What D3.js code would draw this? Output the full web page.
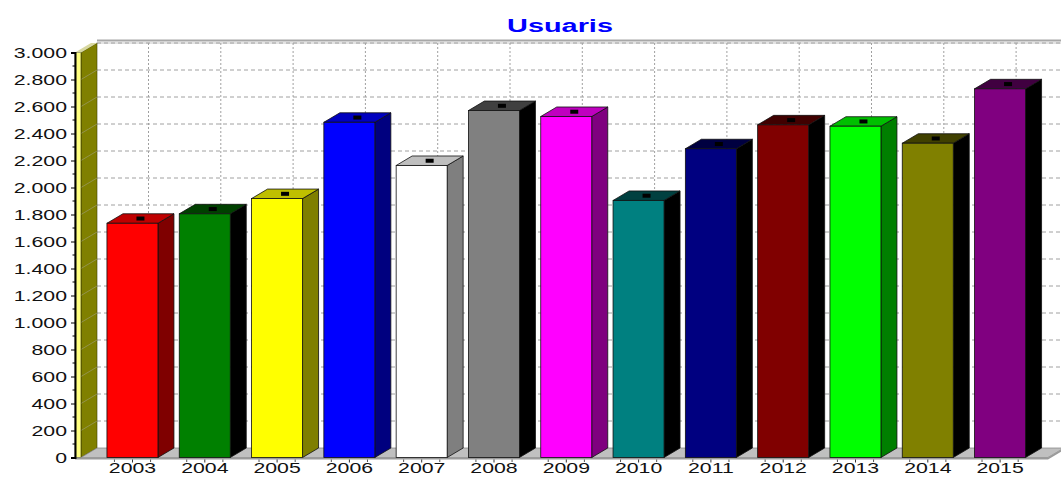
<!DOCTYPE html>
<html>
<head>
  <meta charset="utf-8">
  <title>Usuaris</title>
  <style>
    body { margin: 0; background: #fff; }
    svg text { font-family: "Liberation Sans", Arial, sans-serif; }
  </style>
</head>
<body>
  <div id="chart"></div>
  <script src="https://cdn.jsdelivr.net/npm/d3@7"></script>
  <script>

  // datos
  var years = ["2003","2004","2005","2006","2007","2008","2009","2010","2011","2012","2013","2014","2015"];
  var users = [1735, 1805, 1918, 2483, 2163, 2570, 2526, 1904, 2287, 2464, 2454, 2328, 2731];
  var yTicks = d3.range(0, 3001, 200);
  var palette = ["#ff0000","#008000","#ffff00","#0000ff","#ffffff","#808080","#ff00ff","#008080","#000080","#800000","#00ff00","#808000","#800080"];

  var w = 1061, h = 477;
  var dx = 16, dy = 9.5;      // profundidad 3D
  var sx = 1.52;              // el texto original esta estirado en horizontal

  var svg = d3.select("#chart").append("svg")
    .attr("width", w)
    .attr("height", h);

  var x = d3.scaleBand().domain(years).range([96.35, 1036.25]).padding(0);
  var y = d3.scaleLinear().domain([0, 3000]).range([457.5, 52.5]);
  var step = x.step();
  var barW = 51, barOff = 10.6;

  // shade: top = c - 64, side = c - 128
  function shade(c, k){
    var r = d3.rgb(c);
    return d3.rgb(Math.max(0, r.r - k), Math.max(0, r.g - k), Math.max(0, r.b - k)).formatHex();
  }

  // titulo
  svg.append("text")
    .attr("transform", "translate(560,32) scale(" + sx + ",1)")
    .attr("text-anchor", "middle")
    .attr("font-size", "19px")
    .attr("font-weight", "bold")
    .attr("fill", "#0000ff")
    .text("Usuaris");

  // borde superior del plano de fondo
  svg.append("line").attr("x1", 97).attr("x2", w).attr("y1", 40.5).attr("y2", 40.5)
    .attr("stroke", "#a8a8a8").attr("stroke-width", 2);
  svg.append("line").attr("x1", 97).attr("x2", w).attr("y1", 43).attr("y2", 43)
    .attr("stroke", "#c8c8c8").attr("stroke-width", 1);

  // rejilla horizontal (plano de fondo)
  svg.append("g").selectAll("line")
    .data(yTicks.filter(function(d){ return d > 0; }))
    .enter().append("line")
    .attr("x1", 81 + dx).attr("x2", w)
    .attr("y1", function(d){ return y(d) - dy; })
    .attr("y2", function(d){ return y(d) - dy; })
    .attr("stroke", "#a0a0a0")
    .attr("stroke-dasharray", "4,3");

  // rejilla vertical
  svg.append("g").selectAll("line")
    .data(years)
    .enter().append("line")
    .attr("x1", function(d){ return x(d) + step / 2 + dx; })
    .attr("x2", function(d){ return x(d) + step / 2 + dx; })
    .attr("y1", 43).attr("y2", y(0) - dy)
    .attr("stroke", "#a0a0a0")
    .attr("stroke-dasharray", "2,2");

  // pared izquierda
  var wallTop = y(3000), wallBot = y(0);
  svg.append("polygon")
    .attr("points", [[81, wallTop], [81 + dx, wallTop - dy], [81 + dx, wallBot - dy], [81, wallBot]].join(" "))
    .attr("fill", "#808000")
    .attr("stroke", "#404000")
    .attr("stroke-width", 0.6);
  svg.append("g").selectAll("line")
    .data(yTicks.filter(function(d){ return d > 0 && d < 3000; }))
    .enter().append("line")
    .attr("x1", 81).attr("x2", 81 + dx)
    .attr("y1", function(d){ return y(d); })
    .attr("y2", function(d){ return y(d) - dy; })
    .attr("stroke", "#a0a080")
    .attr("stroke-width", 0.6);
  svg.append("rect")
    .attr("x", 75).attr("y", wallTop)
    .attr("width", 6).attr("height", wallBot - wallTop)
    .attr("fill", "#ffff80")
    .attr("stroke", "#303000")
    .attr("stroke-width", 0.6);
  svg.append("polygon")
    .attr("points", [[75, wallTop], [81, wallTop], [81 + dx, wallTop - dy], [75 + dx, wallTop - dy]].join(" "))
    .attr("fill", "#d8d8a0");

  // suelo
  svg.append("polygon")
    .attr("points", [[81, wallBot], [1048, wallBot], [1048 + dx, wallBot - dy], [81 + dx, wallBot - dy]].join(" "))
    .attr("fill", "#c0c0c0")
    .attr("stroke", "#808080")
    .attr("stroke-width", 0.7);
  svg.append("rect")
    .attr("x", 75).attr("y", wallBot)
    .attr("width", 1048 - 75).attr("height", 2)
    .attr("fill", "#9a9a9a");
  svg.append("polygon")
    .attr("points", [[1048, wallBot], [1048 + dx, wallBot - dy], [1048 + dx, wallBot - dy + 2], [1048, wallBot + 2]].join(" "))
    .attr("fill", "#9a9a9a");

  // barras 3D
  var bars = svg.append("g").selectAll("g")
    .data(years.map(function(d, i){ return {year: d, value: users[i], color: palette[i]}; }))
    .enter().append("g");

  bars.append("polygon") // lado
    .attr("points", function(d){
      var x1 = x(d.year) + barOff + barW, t = y(d.value), b = y(0);
      return [[x1, t], [x1 + dx, t - dy], [x1 + dx, b - dy], [x1, b]].join(" ");
    })
    .attr("fill", function(d){ return shade(d.color, 128); })
    .attr("stroke", "#101010").attr("stroke-width", 0.8);

  bars.append("polygon") // tapa
    .attr("points", function(d){
      var x0 = x(d.year) + barOff, x1 = x0 + barW, t = y(d.value);
      return [[x0, t], [x0 + dx, t - dy], [x1 + dx, t - dy], [x1, t]].join(" ");
    })
    .attr("fill", function(d){ return shade(d.color, 64); })
    .attr("stroke", "#101010").attr("stroke-width", 0.8);

  bars.append("rect") // frente
    .attr("x", function(d){ return x(d.year) + barOff; })
    .attr("y", function(d){ return y(d.value); })
    .attr("width", barW)
    .attr("height", function(d){ return y(0) - y(d.value); })
    .attr("fill", function(d){ return d.color; })
    .attr("stroke", "#101010").attr("stroke-width", 0.8);

  bars.append("rect") // marca negra
    .attr("x", function(d){ return x(d.year) + barOff + barW / 2 + dx / 2 - 4; })
    .attr("y", function(d){ return y(d.value) - dy / 2 - 2; })
    .attr("width", 8).attr("height", 4)
    .attr("fill", "#000");

  // eje y
  var loc = d3.formatLocale({decimal: ",", thousands: ".", grouping: [3], currency: ["", ""]});
  var yAxis = d3.axisLeft(y).tickValues(yTicks).tickSize(4).tickFormat(loc.format(","));
  var gy = svg.append("g").attr("transform", "translate(75,0)").call(yAxis);
  gy.select(".domain").attr("stroke", "#000").attr("stroke-width", 2);
  gy.selectAll(".tick line").attr("stroke", "#000");
  gy.selectAll(".tick text")
    .attr("x", null).attr("dy", null)
    .attr("transform", "translate(-8,5) scale(" + sx + ",1)")
    .attr("font-size", "14px")
    .attr("font-family", "Liberation Sans, Arial, sans-serif")
    .attr("fill", "#111");
  svg.append("g").selectAll("line")
    .data(d3.range(100, 3000, 200))
    .enter().append("line")
    .attr("x1", 72.5).attr("x2", 75)
    .attr("y1", function(d){ return y(d); }).attr("y2", function(d){ return y(d); })
    .attr("stroke", "#000");

  // eje x
  var xAxis = d3.axisBottom(x).tickSize(3);
  var gx = svg.append("g").attr("transform", "translate(0,459.5)").call(xAxis);
  gx.select(".domain").remove();
  gx.selectAll(".tick line").attr("stroke", "#333");
  gx.selectAll(".tick text")
    .attr("y", null).attr("dy", null)
    .attr("transform", "translate(0,13.5) scale(" + sx + ",1)")
    .attr("font-size", "14px")
    .attr("font-family", "Liberation Sans, Arial, sans-serif")
    .attr("fill", "#111");
  svg.append("g").selectAll("line")
    .data(d3.range(0, 53).filter(function(i){ return i % 2 === 1; }))
    .enter().append("line")
    .attr("x1", function(i){ return 96.35 + i * step / 4; })
    .attr("x2", function(i){ return 96.35 + i * step / 4; })
    .attr("y1", 459.5).attr("y2", 462)
    .attr("stroke", "#555");
  </script>
</body>
</html>
